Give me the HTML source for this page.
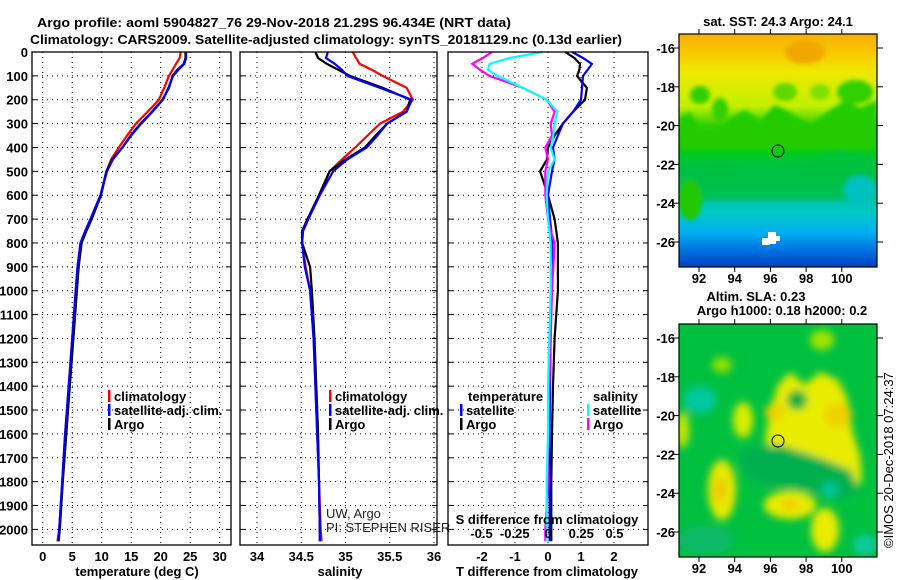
<!DOCTYPE html>
<html><head><meta charset="utf-8">
<style>
html,body{margin:0;padding:0;background:#fff;}
svg{display:block;font-family:"Liberation Sans",Arial,sans-serif;}
.b{font-weight:bold;font-size:13px;}
.t{font-size:13px;}
</style></head>
<body>
<svg id="fig" width="900" height="580" viewBox="0 0 900 580" xmlns="http://www.w3.org/2000/svg">
<defs>
<filter id="bl" x="-30%" y="-30%" width="160%" height="160%"><feGaussianBlur stdDeviation="4"/></filter>
<filter id="bl2" x="-20%" y="-20%" width="140%" height="140%"><feGaussianBlur stdDeviation="2"/></filter>
<clipPath id="c1"><rect x="679" y="34" width="198" height="233"/></clipPath>
<clipPath id="c2"><rect x="679" y="324" width="198" height="233"/></clipPath>
<linearGradient id="sstg" x1="0" y1="0" x2="0" y2="1">
<stop offset="0" stop-color="#f8b000"/><stop offset="0.08" stop-color="#f8c800"/>
<stop offset="0.16" stop-color="#f0e800"/><stop offset="0.31" stop-color="#c0f000"/>
<stop offset="0.39" stop-color="#30d000"/><stop offset="0.48" stop-color="#00cc10"/>
<stop offset="0.6" stop-color="#00c050"/><stop offset="0.69" stop-color="#00c0a0"/>
<stop offset="0.77" stop-color="#00c8c8"/><stop offset="0.85" stop-color="#00b0f0"/>
<stop offset="0.93" stop-color="#0070e0"/><stop offset="1" stop-color="#0040c0"/>
</linearGradient>
</defs>
<text x="274" y="27" class="b" font-size="14" text-anchor="middle" textLength="474" lengthAdjust="spacingAndGlyphs">Argo profile: aoml 5904827_76 29-Nov-2018 21.29S 96.434E (NRT data)</text>
<text x="326" y="44" class="b" font-size="14" text-anchor="middle" textLength="592" lengthAdjust="spacingAndGlyphs">Climatology: CARS2009. Satellite-adjusted climatology: synTS_20181129.nc (0.13d earlier)</text>
<g id="p1"></g>
<g id="p2"></g>
<g id="p3"></g>

<!-- SST map -->
<g>
<g clip-path="url(#c1)">
<rect x="679" y="34" width="198" height="233" fill="url(#sstg)"/>
<g filter="url(#bl2)">
<path d="M679 118 L690 112 L700 128 L715 135 L730 118 L745 110 L760 120 L775 105 L790 112 L810 125 L830 110 L845 100 L860 108 L877 100 L877 150 L679 150 Z" fill="#20cc00"/>
<path d="M679 160 L700 165 L720 160 L750 170 L800 165 L840 150 L877 160 L877 200 L679 200 Z" fill="#00c040" opacity="0.8"/>
<ellipse cx="700" cy="95" rx="10" ry="9" fill="#30d000"/>
<ellipse cx="720" cy="110" rx="8" ry="12" fill="#30d000"/>
<ellipse cx="785" cy="92" rx="12" ry="9" fill="#60d800"/>
<ellipse cx="855" cy="92" rx="18" ry="12" fill="#30d000"/>
<ellipse cx="820" cy="92" rx="10" ry="8" fill="#80e000"/>
<ellipse cx="805" cy="52" rx="20" ry="12" fill="#f0a800"/>
<ellipse cx="690" cy="200" rx="12" ry="20" fill="#20c800"/>
<ellipse cx="860" cy="190" rx="16" ry="14" fill="#00c0c0"/>
</g>
<rect x="762" y="238" width="8" height="7" fill="#fff"/><rect x="768" y="232" width="8" height="12" fill="#fff"/><rect x="774" y="236" width="6" height="5" fill="#fff"/>
</g>
<rect x="679" y="34" width="198" height="233" fill="none" stroke="#000" stroke-width="1.2"/>
<circle cx="778" cy="151" r="6" fill="none" stroke="#000"/>
<text x="778" y="26" class="b" text-anchor="middle">sat. SST: 24.3 Argo: 24.1</text>
</g>

<!-- SLA map -->
<g>
<g clip-path="url(#c2)">
<rect x="679" y="324" width="198" height="233" fill="#00c040"/>
<g filter="url(#bl)">
<ellipse cx="700" cy="400" rx="16" ry="14" fill="#00c8a0"/>
<ellipse cx="722" cy="490" rx="14" ry="30" fill="#e8e800"/>
<ellipse cx="720" cy="490" rx="6" ry="12" fill="#f0c800"/>
<ellipse cx="743" cy="420" rx="10" ry="18" fill="#d8ec00"/>
<path d="M765 440 L770 410 L778 385 L790 372 L805 385 L820 372 L838 380 L848 400 L852 430 L860 455 L862 480 L850 495 L835 470 L810 460 L790 455 L772 450 Z" fill="#e8ec00"/>
<ellipse cx="775" cy="412" rx="10" ry="8" fill="#f0d000"/>
<ellipse cx="838" cy="415" rx="14" ry="12" fill="#f0d000"/>
<ellipse cx="797" cy="400" rx="10" ry="10" fill="#00b040"/>
<path d="M740 450 L780 445 L820 458 L850 470 L860 490 L840 500 L800 490 L760 485 L740 470 Z" fill="#00b050"/>
<ellipse cx="830" cy="490" rx="8" ry="7" fill="#00c8a0"/>
<ellipse cx="790" cy="505" rx="26" ry="14" fill="#e8ec00"/>
<ellipse cx="790" cy="505" rx="10" ry="6" fill="#f0d000"/>
<ellipse cx="825" cy="530" rx="14" ry="22" fill="#e8ec00"/>
<ellipse cx="705" cy="540" rx="28" ry="14" fill="#10b868"/>
<ellipse cx="865" cy="545" rx="12" ry="10" fill="#10c8a0"/>
<ellipse cx="822" cy="340" rx="12" ry="10" fill="#a0e400"/>
<ellipse cx="722" cy="365" rx="10" ry="8" fill="#90e000"/>
<ellipse cx="683" cy="430" rx="6" ry="18" fill="#d0e800"/>
</g>
</g>
<rect x="679" y="324" width="198" height="233" fill="none" stroke="#000" stroke-width="1.2"/>
<circle cx="778" cy="441" r="6" fill="none" stroke="#000"/>
<text x="756" y="301" class="b" text-anchor="middle">Altim. SLA: 0.23</text>
<text x="782" y="315" class="b" text-anchor="middle">Argo h1000: 0.18 h2000: 0.2</text>
</g>
<g id="maxes"></g>
<text class="t" font-size="12" transform="translate(893,548) rotate(-90)">©IMOS 20-Dec-2018 07:24:37</text>
</svg>
<script>
// depth levels (m)
const depth = [0,25,50,75,100,150,200,250,300,350,400,450,500,600,700,750,800,900,1000,1200,1400,1600,1800,2000,2050];
// temperature (deg C)
const tempClim  = [23.4,23.2,22.6,22.0,21.4,20.6,19.7,17.8,15.8,14.3,12.9,11.6,10.8,9.8,8.1,7.2,6.4,5.9,5.6,5.0,4.4,3.8,3.3,2.8,2.5];
const tempSat   = [24.3,24.3,24.0,23.0,22.1,21.3,20.4,18.6,16.7,15.0,13.5,11.9,10.9,9.8,8.1,7.2,6.4,5.9,5.6,5.0,4.4,3.8,3.3,2.8,2.6];
const tempArgo  = [24.2,24.2,23.9,22.8,22.0,21.4,20.3,18.5,16.6,14.9,13.5,11.8,10.8,9.9,8.3,7.4,6.6,6.1,5.8,5.2,4.6,4.0,3.4,2.9,2.7];
// salinity (PSU)
const salClim = [35.08,35.12,35.16,35.30,35.42,35.69,35.76,35.65,35.39,35.25,35.11,34.96,34.82,34.70,34.58,34.52,34.51,34.55,34.60,34.64,34.66,34.68,34.70,34.72,34.73];
const salSat  = [34.80,34.78,34.88,34.96,35.02,35.39,35.75,35.69,35.47,35.36,35.24,35.02,34.86,34.71,34.58,34.52,34.51,34.54,34.60,34.64,34.66,34.68,34.70,34.71,34.71];
const salArgo = [34.66,34.69,34.79,34.92,35.05,35.42,35.73,35.69,35.47,35.34,35.22,35.00,34.82,34.70,34.57,34.51,34.51,34.60,34.62,34.65,34.67,34.69,34.70,34.71,34.71];
// differences from climatology
const dTSat  = [0.73,1.06,1.33,1.20,1.06,1.03,1.00,0.76,0.45,0.30,0.15,0.20,0.12,0.00,0.06,0.10,0.12,0.15,0.10,0.08,0.06,0.05,0.05,0.05,0.05];
const dTArgo = [0.52,0.80,0.97,0.95,0.88,1.18,1.12,0.76,0.45,0.20,0.00,-0.03,-0.24,0.00,0.20,0.25,0.30,0.30,0.30,0.20,0.15,0.12,0.10,0.10,0.10];
const dSSat  = [-0.04,-0.29,-0.44,-0.45,-0.38,-0.19,-0.01,0.07,0.05,0.04,0.02,0.05,0.00,-0.01,0.00,0.01,0.02,0.02,0.02,0.01,0.00,0.00,-0.01,-0.01,-0.01];
const dSArgo = [-0.42,-0.49,-0.57,-0.51,-0.44,-0.19,-0.01,0.05,0.02,0.03,-0.02,0.00,-0.02,-0.02,0.00,0.02,0.05,0.04,0.03,0.02,0.01,0.00,0.00,-0.02,-0.02];
const depthTicks = [0,100,200,300,400,500,600,700,800,900,1000,1100,1200,1300,1400,1500,1600,1700,1800,1900,2000];
const tempTicks = [0,5,10,15,20,25,30];
const salTicks = [34,34.5,35,35.5,36];
const dTTicks = [-2,-1,0,1,2];
const dSTicks = [-0.5,-0.25,0,0.25,0.5];
const lonTicks = [92,94,96,98,100];
const latTicks = [-16,-18,-20,-22,-24,-26];

const NS='http://www.w3.org/2000/svg';
function mk(parent,tag,attrs,txt){const e=document.createElementNS(NS,tag);for(const k in attrs)e.setAttribute(k,attrs[k]);if(txt!==undefined)e.textContent=txt;parent.appendChild(e);return e;}
const yD = d => 52 + d*0.2387;
const TOP=52, BOT=545;
const xT = t => 42.7 + t*5.9;
const xS = s => 257 + (s-34)*88.5;
const xDT = v => 548 + v*33;
const xDS = v => 548 + v*133;

function frame(g,x0,x1,vticks,xf){
  for(const d of depthTicks){
    const l=mk(g,'line',{x1:x0,x2:x1,y1:yD(d),y2:yD(d),stroke:'#000','stroke-dasharray':'1,4'});
    
    
    mk(g,'line',{x1:x0,x2:x0+5,y1:yD(d),y2:yD(d),stroke:'#000'});
    mk(g,'line',{x1:x1-5,x2:x1,y1:yD(d),y2:yD(d),stroke:'#000'});
  }
  for(const v of vticks){
    const l=mk(g,'line',{x1:xf(v),x2:xf(v),y1:TOP,y2:BOT,stroke:'#000','stroke-dasharray':'1,4'});
    
    
  }
}
function line(g,xs,f,color,name,w){
  const pts=xs.map((v,i)=>f(v).toFixed(1)+','+yD(depth[i]).toFixed(1)).join(' ');
  const p=mk(g,'polyline',{points:pts,fill:'none',stroke:color,'stroke-width':w||2.2});
  
  
}
function box(g,x0,x1){mk(g,'rect',{x:x0,y:TOP,width:x1-x0,height:BOT-TOP,fill:'none',stroke:'#000','stroke-width':1.3});}
function legend(g,x,y,color,label){
  mk(g,'rect',{x:x,y:y-7,width:2.5,height:12,fill:color});
  const t=mk(g,'text',{x:x+6,y:y+4,class:'b'},label);
  
  
}

// panel 1
const p1=document.getElementById('p1');
frame(p1,32,231,tempTicks,xT);
for(const d of depthTicks){
  const t=mk(p1,'text',{x:28,y:yD(d)+5,class:'b','text-anchor':'end'},String(d));
  
  
}
for(const v of tempTicks){
  const t=mk(p1,'text',{x:xT(v),y:561,class:'b','text-anchor':'middle'},String(v));
  
  
}
line(p1,tempClim,xT,'#f00','temperature-climatology-line');
line(p1,tempArgo,xT,'#000','temperature-argo-line');
line(p1,tempSat,xT,'#00f','temperature-satellite-line');
box(p1,32,231);
legend(p1,108,397,'#f00','climatology');
legend(p1,108,411,'#00f','satellite-adj. clim.');
legend(p1,108,425,'#000','Argo');
{const t=mk(p1,'text',{x:137,y:576,class:'b','text-anchor':'middle'},'temperature (deg C)');
}

// panel 2
const p2=document.getElementById('p2');
frame(p2,240,437,salTicks,xS);
for(const v of salTicks){
  const t=mk(p2,'text',{x:xS(v),y:561,class:'b','text-anchor':'middle'},String(v));
  
  
}
line(p2,salClim,xS,'#f00','salinity-climatology-line');
line(p2,salArgo,xS,'#000','salinity-argo-line');
line(p2,salSat,xS,'#00f','salinity-satellite-line');
box(p2,240,437);
legend(p2,329,397,'#f00','climatology');
legend(p2,329,411,'#00f','satellite-adj. clim.');
legend(p2,329,425,'#000','Argo');
mk(p2,'text',{x:326,y:518,class:'t',fill:'#222'},'UW, Argo');
mk(p2,'text',{x:326,y:532,class:'t',fill:'#222'},'PI: STEPHEN RISER');
{const t=mk(p2,'text',{x:340,y:576,class:'b','text-anchor':'middle'},'salinity');
}

// panel 3
const p3=document.getElementById('p3');
frame(p3,448,648,dTTicks,xDT);
for(const v of dTTicks){
  const t=mk(p3,'text',{x:xDT(v),y:561,class:'b','text-anchor':'middle'},String(v));
  
  
}
line(p3,dTArgo,xDT,'#000','t-diff-argo-line');
line(p3,dTSat,xDT,'#00f','t-diff-satellite-line');
line(p3,dSArgo,xDS,'#f0f','s-diff-argo-line');
line(p3,dSSat,xDS,'#0ff','s-diff-satellite-line');
box(p3,448,648);
for(const v of dSTicks){
  const t=mk(p3,'text',{x:xDS(v),y:538,class:'b','text-anchor':'middle'},String(v));
  
  
}
{const t=mk(p3,'text',{x:547,y:524,class:'b','text-anchor':'middle'},'S difference from climatology');
}
mk(p3,'text',{x:468,y:401,class:'b'},'temperature');
legend(p3,460,411,'#00f','satellite');
legend(p3,460,425,'#000','Argo');
mk(p3,'text',{x:593,y:401,class:'b'},'salinity');
legend(p3,587,411,'#0ff','satellite');
legend(p3,587,425,'#f0f','Argo');
{const t=mk(p3,'text',{x:547,y:576,class:'b','text-anchor':'middle'},'T difference from climatology');
}

// map axes
const ma=document.getElementById('maxes');
const xLon = l => 699 + (l-92)*17.85;
for(const [y0,h] of [[34,233],[324,233]]){
  const yLat = la => y0 + 14 + (-16-la)*19.4;
  for(const la of latTicks){
    mk(ma,'line',{x1:673,x2:679,y1:yLat(la),y2:yLat(la),stroke:'#000'});
    mk(ma,'line',{x1:877,x2:883,y1:yLat(la),y2:yLat(la),stroke:'#000'});
    const t=mk(ma,'text',{x:675,y:yLat(la)+5,class:'b','text-anchor':'end'},String(la));
    
    
  }
  for(const lo of lonTicks){
    mk(ma,'line',{x1:xLon(lo),x2:xLon(lo),y1:y0-5,y2:y0,stroke:'#000'});
    mk(ma,'line',{x1:xLon(lo),x2:xLon(lo),y1:y0+h,y2:y0+h+5,stroke:'#000'});
    const t=mk(ma,'text',{x:xLon(lo),y:y0+h+16,class:'b','text-anchor':'middle'},String(lo));
    
    
  }
}
</script>
</body></html>
